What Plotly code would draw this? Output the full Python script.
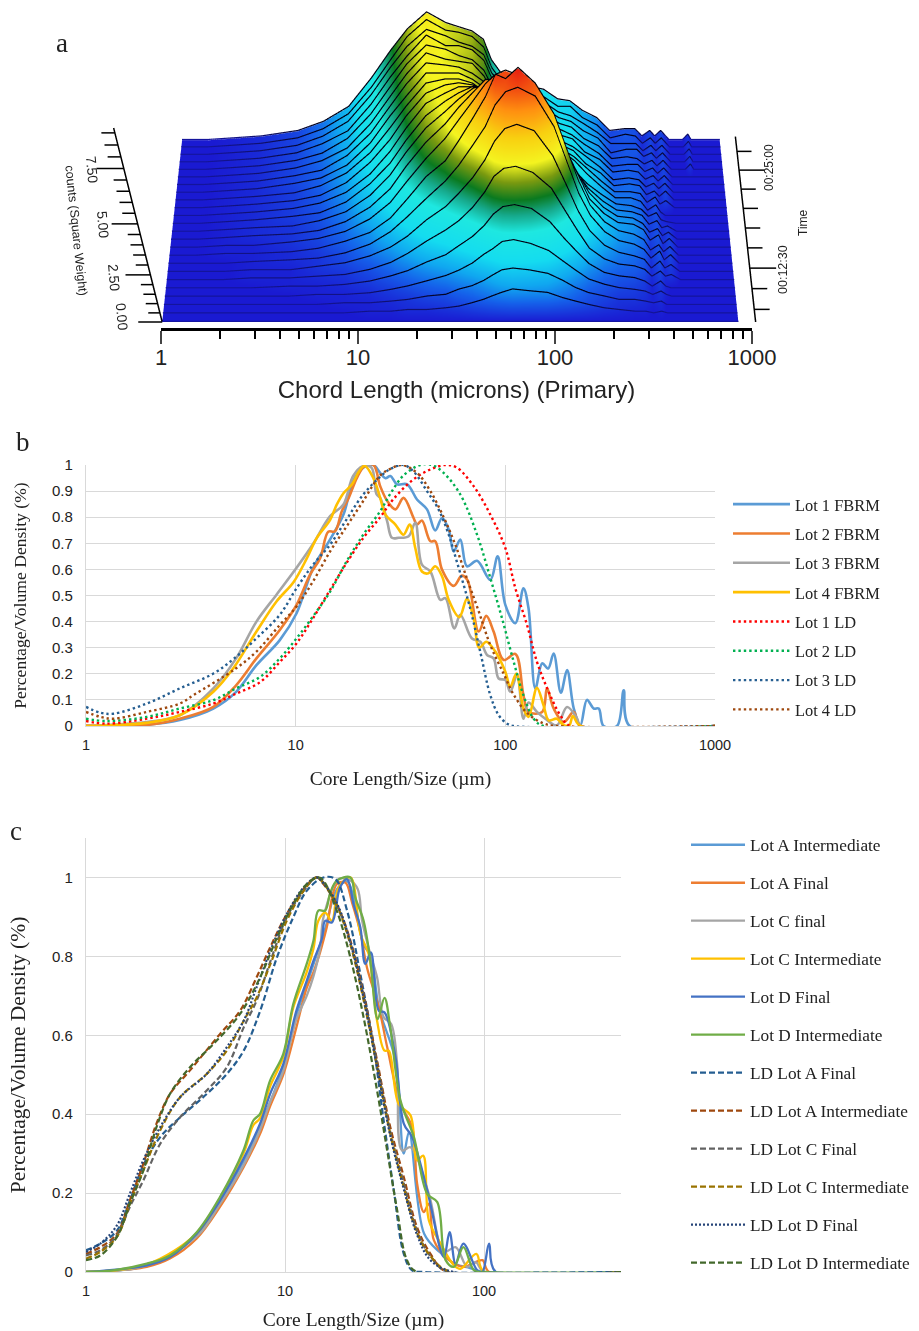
import plotly.graph_objects as go

W, H = 919, 1331
SERIF = "Liberation Serif"
SANS = "Liberation Sans"

# ---------- panel a: chord length distribution over time ----------
chord_bins = [1,1.4,2,2.8,4.5,6.3,8.8,12,15.5,19,24,30,35,41,47,52,58,66,80,100,120,140,165,200,240,290,330,365,400,430,460,520,620,655,690,1000]
slice_minutes = list(range(6, 30))
count_scale = 0.092  # table is in tenths of a count on a slightly stretched reading
counts_tenths = [
[0,0,0,0,0,0,0,0,0,0,0,0,0,0,0,0,0,0,0,0,0,0,0,0,0,0,0,0,0,0,0,0,0,0,0,0],
[0,0,0,0,0,0,0,1,1,2,2,3,4,6,8,10,12,14,13,12,9,7,5,3,2,1,1,0,1,0,0,0,0,0,0,0],
[0,0,0,0,0,0,1,1,2,3,5,6,9,11,14,17,20,21,20,18,14,10,7,5,3,3,2,1,2,0,0,0,0,0,0,0],
[0,0,0,0,0,1,1,2,4,6,9,12,15,19,24,27,31,32,30,26,20,15,10,7,5,4,3,1,3,1,0,0,0,0,0,0],
[0,0,0,0,1,1,2,4,7,10,15,19,24,29,35,41,45,46,44,37,28,21,14,9,7,6,4,1,4,1,0,0,0,0,0,0],
[0,0,0,1,1,2,3,6,10,15,22,28,33,40,48,56,60,61,58,50,38,28,18,12,9,8,6,2,5,2,3,0,0,0,0,0],
[0,0,0,1,1,3,5,9,14,20,29,36,43,51,60,69,75,77,74,62,47,34,23,15,11,9,7,2,6,2,4,0,0,0,0,0],
[0,0,0,1,2,3,6,11,18,26,36,45,53,63,72,82,88,90,86,72,54,39,27,18,13,11,8,3,7,2,5,0,0,0,0,0],
[0,0,1,1,2,4,8,13,21,31,43,51,61,72,82,92,90,95,88,74,56,41,28,19,14,12,9,3,6,2,5,0,0,0,0,0],
[0,0,1,1,3,5,9,16,25,36,48,58,67,76,84,88,90,88,80,68,52,40,27,19,14,13,10,4,7,2,5,0,0,0,0,0],
[0,0,1,2,3,5,10,18,28,40,52,61,69,76,82,82,80,76,70,60,47,37,26,18,13,12,9,4,6,2,4,0,0,0,0,0],
[0,0,1,2,3,6,11,20,31,43,55,63,69,74,76,74,70,65,60,52,42,33,24,17,12,11,9,4,6,2,3,0,0,0,0,0],
[0,0,1,2,4,6,12,22,33,45,57,64,68,71,70,66,62,57,52,46,38,29,22,16,11,10,8,4,6,2,1,0,0,0,0,0],
[0,0,1,2,4,7,13,23,35,47,59,64,67,67,65,60,55,51,47,42,35,30,23,16,10,10,8,3,6,2,0,0,0,0,0,0],
[0,0,1,2,4,7,14,25,37,49,60,64,65,64,61,55,50,46,43,38,32,28,22,15,9,9,8,3,6,2,4,0,0,0,0,0],
[0,0,1,2,4,8,15,26,39,50,61,63,63,61,57,51,46,43,40,36,30,27,20,15,8,9,8,3,5,2,5,0,0,0,0,0],
[0,0,1,2,5,8,15,27,41,51,62,62,62,59,55,48,44,41,38,34,28,25,20,14,7,8,7,3,5,2,5,0,0,0,0,0],
[0,0,1,2,5,8,16,28,42,53,63,62,61,58,54,46,42,39,36,32,27,25,18,14,7,8,7,3,5,2,5,0,0,0,0,0],
[0,0,1,2,5,9,16,29,43,54,64,61,60,59,53,45,41,38,35,31,26,23,18,13,6,7,7,3,5,2,5,0,0,0,0,0],
[0,0,1,2,5,9,17,30,44,55,64,62,59,57,52,44,40,37,33,30,25,23,17,13,6,7,6,3,5,2,5,0,0,3,0,0],
[0,0,1,2,5,10,17,31,45,55,65,60,60,58,53,44,38,35,32,29,24,22,17,13,5,7,7,3,5,2,5,0,0,3,0,0],
[0,0,1,2,5,10,18,32,46,56,64,61,58,56,52,43,38,34,31,28,23,21,17,12,6,6,6,2,5,2,5,0,0,3,0,0],
[0,0,1,2,5,10,18,32,46,57,65,60,59,57,52,42,36,33,30,27,22,22,16,12,5,7,6,2,5,2,5,0,0,3,0,0],
[0,0,1,2,5,10,18,33,47,57,65,60,58,56,52,42,36,33,29,27,22,21,16,12,5,6,6,2,5,2,5,0,0,3,0,0],
]
z_ticks = [0,0.5,1,1.5,2,2.5,3,3.5,4,4.5,5,5.5,6,6.5,7,7.5,8,8.5,9]
z_major = [0,2.5,5,7.5]
z_labels = ["0.00","2.50","5.00","7.50"]
time_ticks = [7.5,10,12.5,15,17.5,20,22.5,25,27.5]
time_major = [12.5,25]

# ---------- panel b ----------
b_l1_x = [1,1.95,2.8,4.05,5.2,6.5,8.4,10.1,12.1,14.6,16.9,18.8,21,23.5,25.3,26.8,28.3,30.4,34,37.9,42.3,46.3,49.9,53.7,56.7,61,65.6,73.3,84.8,91.9,100,111.6,122,129,139,150,160,170,184,197,212,228,245,264,279,294,341,367,392,1000]
b_l1_y = [0,.005,.023,.067,.131,.233,.329,.432,.605,.715,.81,.938,.99,1,.97,.949,.958,.926,.926,.868,.83,.749,.797,.753,.669,.714,.612,.633,.56,.65,.464,.394,.528,.451,.144,.24,.22,.278,.128,.214,.067,.003,.1,.067,.067,0,0,.137,0,0]
b_l2_x = [1,1.95,2.8,4.05,5.2,6.5,8.4,10.1,11.7,13.1,14.3,15.4,16.6,17.9,19.6,21.3,23.5,25.3,27.3,29.9,32.7,36.5,37.9,40,43.9,46.3,49.9,56.7,62,66,74.6,81.1,87.9,98.2,111.6,122,129,150,158,170,190,212,228,1000]
b_l2_y = [.002,.004,.028,.073,.156,.259,.368,.464,.579,.644,.744,.746,.823,.874,.951,.996,1,.919,.863,.83,.874,.797,.772,.787,.708,.708,.599,.537,.576,.559,.362,.422,.362,.253,.276,.118,.054,.054,.144,.067,.015,.054,.002,0]
b_l3_x = [1,1.95,2.8,4.05,5.2,6.5,8.1,10.1,12.1,14.6,16.9,18.8,21,23,24.3,25.3,27.3,28.8,31,34.6,37.2,40,43.9,49,51.8,57.1,61,69.3,76,81.8,87.9,92.9,100,105.6,113.7,122,129,141.5,155,176,197,220,228,1000]
b_l3_y = [0,.015,.041,.144,.259,.4,.503,.606,.697,.804,.849,.958,.996,.99,.888,.874,.785,.721,.721,.727,.779,.618,.592,.483,.49,.374,.426,.335,.323,.272,.259,.182,.176,.131,.195,.028,.09,.054,.028,.003,.073,.028,0,0]
b_l4_x = [1,1.95,2.8,4.05,5.04,6.5,8.1,9.8,11.3,12.6,14.6,15.7,16.9,18.5,20,21.3,23.5,25.3,26.8,29.9,32.7,35,37.2,40,43,46.3,49.9,53.7,60.3,65.6,70.6,75.1,81.1,89.6,100,105.6,112.9,122,129,141.5,152,161,176,190,202,210,228,1000]
b_l4_y = [0,.012,.041,.131,.221,.362,.477,.553,.642,.72,.79,.848,.892,.924,.974,.997,.949,.874,.81,.772,.733,.772,.682,.592,.585,.612,.574,.483,.417,.487,.413,.3,.323,.285,.208,.15,.201,.067,.035,.146,.08,.022,.028,.003,.003,.038,0,0]
b_ld1_x = [1,1.26,1.95,2.8,4.05,5.2,6.76,8.4,10.1,12.1,14.6,17.5,21,25.3,29.3,36.5,43.9,51.8,58.7,70.6,84.8,100,111.6,126.9,141.5,161,183,204,1000]
b_ld1_y = [.019,.009,.028,.054,.086,.124,.168,.245,.317,.413,.522,.625,.72,.8,.87,.945,.983,1,.99,.919,.81,.682,.528,.387,.246,.131,.041,0,0]
b_ld2_x = [1,1.26,1.95,2.8,4.05,5.2,6.76,8.4,10.1,12.1,14.6,17.5,21,25.3,28.3,32.7,39.3,44.7,50.8,61,73.3,84.8,96.4,109.6,122,136.5,152,1000]
b_ld2_y = [.028,.019,.035,.067,.099,.144,.188,.259,.336,.42,.515,.631,.733,.823,.89,.96,1,1,.97,.887,.733,.567,.413,.246,.118,.028,0,0]
b_ld3_x = [1,1.17,1.35,1.95,2.8,4.05,5.2,6.5,8.4,10.1,12.1,14.6,17.5,21,25.3,28.3,32.7,36.5,42.3,48,53.7,58.7,68,76,84.8,93,102,110,1000]
b_ld3_y = [.073,.051,.047,.086,.144,.201,.265,.336,.426,.528,.618,.695,.792,.887,.955,.985,1,.975,.9,.83,.733,.63,.45,.283,.118,.041,.009,0,0]
b_ld4_x = [1,1.17,1.35,1.95,2.8,3.25,5.2,6.5,8.4,10.1,12.1,14.6,17.5,21,25.3,28.3,32,37.9,43.9,50.8,57.7,65.6,74.6,84.8,98.2,109.6,126.9,152,176,1000]
b_ld4_y = [.054,.035,.028,.054,.086,.118,.221,.285,.387,.458,.554,.669,.765,.862,.96,.985,1,.97,.9,.8,.695,.565,.44,.31,.2,.12,.05,.01,0,0]

# ---------- panel c ----------
c_af_x = [1,2.02,2.64,3.6,4.71,6.18,7.49,8.41,9.8,11.4,12.85,13.9,15,16.2,18.2,20.1,21.7,23.9,25.8,29.6,32.6,38,43.5,46.1,49.8,52.8,56,65.3,79.2,87.3,98.2,106,500]
c_af_y = [0,.013,.034,.085,.165,.265,.35,.42,.5,.62,.72,.76,.81,.873,.983,.987,.937,.861,.772,.671,.57,.426,.367,.224,.152,.173,.08,.034,.013,.021,.03,0,0]
c_ai_x = [1,2.02,3.6,4.71,6.18,7.49,9.8,11.4,13.9,15.9,18.2,20.5,22.1,24.8,27,29.6,35.9,39.5,42,50,60,72,85,100,500]
c_ai_y = [0,.017,.095,.178,.28,.37,.52,.65,.78,.87,.97,.99,.95,.83,.8,.67,.535,.3,.355,.097,.05,.02,.01,0,0]
c_cf_x = [1,2.02,3.6,4.71,6.18,7.49,8.41,9.8,11.4,12.85,13.9,15,15.6,18.6,21.3,23.2,24.4,26.8,29,31.3,34.1,36.6,38.7,42.7,52.8,62.8,71.9,82.4,90.8,100,500]
c_cf_y = [0,.017,.09,.172,.27,.36,.43,.51,.64,.7,.75,.82,.899,.996,.992,.97,.89,.806,.747,.646,.629,.527,.308,.316,.198,.051,.063,.013,.025,0,0]
c_ci_x = [1,2.02,3.6,4.71,6.18,6.93,7.49,8.41,9.8,11,12.85,13.9,14.7,15.9,17.2,18.6,21.3,23.9,26.3,29,31.6,33.2,37.2,42.7,46.1,49.4,52.8,60.5,70.6,76.2,91.4,100,500]
c_ci_y = [0,.019,.098,.185,.3,.372,.39,.47,.545,.67,.76,.82,.89,.911,.89,.975,1,.857,.806,.637,.561,.561,.426,.397,.283,.295,.131,.072,.017,.008,.046,0,0]
c_df_x = [1,2.02,2.64,3.6,4.71,6.18,7.49,8.41,9.8,11.4,12.85,13.9,15.3,15.9,17.2,18.9,20.5,22.1,23.9,25.3,27,29.6,31.6,35.9,39.5,43.5,51.8,62.8,67.1,71.9,78.7,92.5,98,106,114.5,500]
c_df_y = [0,.017,.038,.097,.181,.287,.376,.451,.527,.662,.738,.789,.844,.89,.886,.975,.996,.932,.873,.781,.81,.662,.658,.544,.376,.342,.207,.038,.101,.021,.072,.004,0,.072,0,0]
c_di_x = [1,1.37,2.02,2.64,3.6,4.71,6.18,6.93,7.49,8.41,9.8,11,12.85,13.9,14.7,15.9,16.9,18.2,21.3,22.5,24.8,26.8,29.2,31.6,33.8,38,44.4,51.8,58.2,64.1,70.6,78.7,89.1,100,500]
c_di_y = [0,.004,.021,.042,.101,.19,.308,.384,.401,.485,.553,.679,.781,.84,.916,.916,.962,.992,1,.95,.891,.79,.641,.695,.62,.435,.342,.198,.177,.03,.013,.063,.004,0,0]
c_ld_af_x = [1,1.18,1.43,1.66,1.94,2.36,2.97,4.04,5.1,6.2,7.5,9.1,11,12.85,15.6,17.9,20.5,23.9,27.9,31.3,35.2,39.5,43.5,50,500]
c_ld_af_y = [.055,.072,.105,.181,.27,.342,.392,.451,.502,.561,.662,.797,.899,.966,1,.996,.916,.755,.57,.384,.207,.046,.004,0,0]
c_ld_ai_x = [1,1.18,1.43,1.66,1.94,2.26,2.64,3.33,4.71,5.94,7.2,8.57,10.2,12.4,14.4,15.6,18.2,21.3,24.8,29,33.8,39.5,46,53.8,65,500]
c_ld_ai_y = [.046,.063,.097,.181,.274,.376,.451,.511,.603,.662,.747,.831,.907,.971,1,.983,.932,.84,.705,.536,.367,.241,.114,.046,0,0]
c_ld_cf_x = [1,1.18,1.43,1.66,1.94,2.36,2.97,4.04,5.1,6.2,7.2,8.57,10.2,12.4,14.4,15.6,18.2,21.3,24.8,29,33.8,39.5,46,53.8,66,500]
c_ld_cf_y = [.042,.055,.093,.165,.232,.325,.392,.46,.519,.62,.688,.797,.899,.966,1,.987,.93,.835,.7,.53,.355,.225,.105,.04,0,0]
c_ld_ci_x = [1,1.18,1.43,1.66,1.94,2.36,2.97,4.04,5.1,6.2,7.2,8.57,10.2,12.4,14.4,15.6,18.2,21.3,24.8,29,33.8,39.5,46,53.8,68,500]
c_ld_ci_y = [.034,.051,.089,.173,.257,.359,.443,.502,.561,.637,.696,.789,.89,.966,1,.985,.93,.83,.69,.52,.35,.215,.1,.04,0,0]
c_ld_df_x = [1,1.18,1.43,1.66,1.94,2.36,2.97,4.04,5.1,6.2,7.2,8.57,10.2,12.4,14.4,15.6,18.2,21.3,24.8,29,33.8,39.5,46,53.8,70,500]
c_ld_df_y = [.051,.072,.118,.198,.283,.367,.443,.502,.57,.637,.722,.823,.907,.975,1,.985,.935,.835,.695,.52,.345,.21,.095,.03,0,0]
c_ld_di_x = [1,1.18,1.43,1.66,1.94,2.26,2.64,3.33,4.37,5.94,7.5,9.1,11,12.85,14.7,15.6,18.2,21.3,24.8,29,32.6,36.6,41,46,500]
c_ld_di_y = [.03,.042,.089,.173,.257,.367,.451,.519,.578,.654,.747,.847,.932,.983,1,.992,.916,.797,.646,.46,.308,.156,.03,0,0]

fig = go.Figure()

# ---------- surface ----------
z_matrix = [[v * count_scale for v in row] for row in counts_tenths]
CMAX = 9.2
colorscale = [[0,"#1a1ad2"],[0.08,"#1560ea"],[0.15,"#10a8f0"],[0.23,"#14dcf0"],[0.35,"#1ee8e0"],[0.42,"#16a88a"],
              [0.48,"#0a7a20"],[0.55,"#7a9a10"],[0.62,"#f4f420"],[0.72,"#f8d010"],[0.82,"#ff9010"],[0.95,"#e82010"],[1,"#d01010"]]
fig.add_trace(go.Surface(
    x=chord_bins, y=slice_minutes, z=z_matrix, cmin=0, cmax=CMAX, colorscale=colorscale,
    showscale=False, hoverinfo="skip",
    lighting=dict(ambient=1, diffuse=0.15, specular=0, roughness=1, fresnel=0),
    contours=dict(x=dict(highlight=False), y=dict(highlight=False), z=dict(highlight=False)),
))
# slice lines drawn over the surface: black on the hump, dark blue on the flat floor
lx, ly, lz, lc = [], [], [], []
for t, row in zip(slice_minutes, z_matrix):
    lx += chord_bins + [None]
    ly += [t] * len(row) + [None]
    lz += [v + 0.04 for v in row] + [None]
    lc += row + [0]
fig.add_trace(go.Scatter3d(x=lx, y=ly, z=lz, mode="lines", hoverinfo="skip", showlegend=False,
    line=dict(width=2.4, color=lc, cmin=0, cmax=10, showscale=False,
              colorscale=[[0, "#14149c"], [0.02, "#10106a"], [0.06, "#000018"], [1, "#000000"]])))
# tilted z axis and time axis
t0, t1 = slice_minutes[0], slice_minutes[-1]
zx, zy, zz = [1, 1, None], [t0, t0, None], [0, 9.2, None]
for t in z_ticks:
    ln = 0.75 if t in z_major else 0.87
    zx += [1, ln, None]; zy += [t0, t0, None]; zz += [t, t, None]
tx, ty, tz = [1230, 1230, None], [t0, t1 + 0.5, None], [0, 0, None]
for t in time_ticks:
    e = 1700 if t in time_major else 1480
    tx += [1230, e, None]; ty += [t, t, None]; tz += [0, 0, None]
for a, b, c in ((zx, zy, zz), (tx, ty, tz)):
    fig.add_trace(go.Scatter3d(x=a, y=b, z=c, mode="lines", line=dict(color="black", width=3),
                               hoverinfo="skip", showlegend=False))

AX = dict(visible=False, showgrid=False, zeroline=False, showbackground=False)
fig.update_layout(scene=dict(
    domain=dict(x=[0, 1], y=[0, 1]),
    xaxis=dict(AX, type="log", range=[-0.25, 3.25]),
    yaxis=dict(AX, range=[t0 - 0.5, t1 + 0.5]),
    zaxis=dict(AX, range=[-0.2, 10.2]),
    aspectmode="manual", aspectratio=dict(x=1.1667, y=0.449, z=0.5),
    camera=dict(projection=dict(type="perspective"), up=dict(x=0, y=0, z=1),
                eye=dict(x=0.016, y=-2.04, z=1.951), center=dict(x=0.016, y=-0.696, z=-0.607)),
    bgcolor="rgba(0,0,0,0)",
))

# bottom chord-length axis of panel a
fig.add_trace(go.Scatter(x=[1, 1000], y=[0, 0], xaxis="x3", yaxis="y3", mode="markers",
                         marker=dict(opacity=0), hoverinfo="skip", showlegend=False))

def add(x, y, name, color, dash, width, xa, ya, leg):
    fig.add_trace(go.Scatter(x=x, y=y, name=name, mode="lines", xaxis=xa, yaxis=ya, legend=leg,
                             legendgroup=name, cliponaxis=False, hoverinfo="skip",
                             line=dict(color=color, dash=dash, width=width, shape="spline", smoothing=1)))

BD = "2.4px,3px"
for x, y, n, col, d, w in [
    (b_l1_x, b_l1_y, "Lot 1 FBRM", "#5B9BD5", "solid", 2.6),
    (b_l2_x, b_l2_y, "Lot 2 FBRM", "#ED7D31", "solid", 2.6),
    (b_l3_x, b_l3_y, "Lot 3 FBRM", "#A5A5A5", "solid", 2.6),
    (b_l4_x, b_l4_y, "Lot 4 FBRM", "#FFC000", "solid", 2.6),
    (b_ld1_x, b_ld1_y, "Lot 1 LD", "#FF0000", BD, 2.4),
    (b_ld2_x, b_ld2_y, "Lot 2 LD", "#00B050", BD, 2.4),
    (b_ld3_x, b_ld3_y, "Lot 3 LD", "#255E91", BD, 2.4),
    (b_ld4_x, b_ld4_y, "Lot 4 LD", "#9E480E", BD, 2.4),
]:
    add(x, y, n, col, d, w, "x", "y", "legend")

CD = "6px,3px"
for x, y, n, col, d, w in [
    (c_ai_x, c_ai_y, "Lot A Intermediate", "#5B9BD5", "solid", 2.3),
    (c_af_x, c_af_y, "Lot A Final", "#ED7D31", "solid", 2.3),
    (c_cf_x, c_cf_y, "Lot C final", "#A5A5A5", "solid", 2.3),
    (c_ci_x, c_ci_y, "Lot C Intermediate", "#FFC000", "solid", 2.3),
    (c_df_x, c_df_y, "Lot D Final", "#4472C4", "solid", 2.3),
    (c_di_x, c_di_y, "Lot D Intermediate", "#70AD47", "solid", 2.3),
    (c_ld_af_x, c_ld_af_y, "LD Lot A Final", "#255E91", CD, 2.2),
    (c_ld_ai_x, c_ld_ai_y, "LD Lot A Intermediate", "#9E480E", CD, 2.2),
    (c_ld_cf_x, c_ld_cf_y, "LD Lot C Final", "#636363", CD, 2.2),
    (c_ld_ci_x, c_ld_ci_y, "LD Lot C Intermediate", "#997300", CD, 2.2),
    (c_ld_df_x, c_ld_df_y, "LD Lot D Final", "#264478", "2px,2px", 2.2),
    (c_ld_di_x, c_ld_di_y, "LD Lot D Intermediate", "#43682B", CD, 2.2),
]:
    add(x, y, n, col, d, w, "x2", "y2", "legend2")

GRID = "#D9D9D9"
def xax(x0, x1, y_anchor, rng, vals, standoff):
    return dict(type="log", domain=[x0 / W, x1 / W], range=rng, anchor=y_anchor, tickmode="array", tickvals=vals,
                ticktext=[str(v) for v in vals], ticks="", showgrid=True, gridcolor=GRID, gridwidth=1.4,
                showline=True, linecolor=GRID, linewidth=1.4, zeroline=False, automargin=False,
                ticklabelstandoff=5,
                tickfont=dict(family=SANS, size=14.5, color="#222222"),
                title=dict(text="Core Length/Size (µm)", font=dict(family=SERIF, size=19.5, color="#222222"), standoff=standoff))
def yax(top, bot, x_anchor, rng, vals, labels, size):
    return dict(domain=[1 - bot / H, 1 - top / H], range=rng, anchor=x_anchor, tickmode="array", tickvals=vals,
                ticktext=labels, ticks="", showgrid=True, gridcolor=GRID, gridwidth=1.4,
                showline=True, linecolor=GRID, linewidth=1.4, zeroline=False, automargin=False,
                ticklabelstandoff=9,
                tickfont=dict(family=SANS, size=15, color="#222222"),
                title=dict(text="Percentage/Volume Density (%)", font=dict(family=SERIF, size=size, color="#222222"), standoff=20))

b_y_ticks = [0,.1,.2,.3,.4,.5,.6,.7,.8,.9,1]
b_y_labels = ["0","0.1","0.2","0.3","0.4","0.5","0.6","0.7","0.8","0.9","1"]
c_y_ticks = [0,.2,.4,.6,.8,1]
c_y_labels = ["0","0.2","0.4","0.6","0.8","1"]

def legend(x, y, gap, size, iw):
    return dict(x=x / W, y=1 - y / H, xanchor="left", yanchor="top", itemwidth=iw, tracegroupgap=gap,
                font=dict(family=SERIF, size=size, color="#222222"), bgcolor="rgba(0,0,0,0)", itemclick=False, itemdoubleclick=False)

fig.update_layout(
    width=W, height=H, autosize=False, margin=dict(l=0, r=0, t=0, b=0),
    paper_bgcolor="white", plot_bgcolor="rgba(0,0,0,0)",
    xaxis=xax(86, 715, "y", [0, 3], [1, 10, 100, 1000], 19),
    yaxis=yax(465, 726, "x", [0, 1], b_y_ticks, b_y_labels, 17.6),
    xaxis2=xax(86, 621, "y2", [0, 2.688], [1, 10, 100], 17),
    yaxis2=yax(838, 1272, "x2", [0, 1.1], c_y_ticks, c_y_labels, 21.5),
    xaxis3=dict(type="log", domain=[161 / W, 752 / W], range=[0, 3], anchor="y3", tick0=0, dtick=1, showgrid=False,
                zeroline=False, showline=True, linecolor="black", linewidth=2.5, ticks="outside", ticklen=13, tickwidth=2,
                automargin=False, exponentformat="none", ticklabelstandoff=-5,
                minor=dict(ticks="outside", ticklen=8, tickwidth=1.5, tickcolor="black", dtick="D1", showgrid=False),
                tickfont=dict(family=SANS, size=22, color="#222222"),
                title=dict(text="Chord Length (microns) (Primary)", font=dict(family=SANS, size=24, color="#222222"), standoff=13)),
    yaxis3=dict(domain=[1 - 328 / H, 1 - 300 / H], anchor="x3", visible=False, range=[0, 1], automargin=False),
    legend=legend(728, 487, 5, 16.4, 57),
    legend2=legend(686, 827, 12.5, 17.3, 54),
    annotations=[
        dict(text=t, x=x / W, y=1 - y / H, xref="paper", yref="paper", showarrow=False, textangle=a,
             xanchor="center", yanchor="middle", font=dict(family=f, size=s, color="#222222"))
        for t, x, y, a, f, s in [
            ("a", 62, 43, 0, SERIF, 27), ("b", 23, 442, 0, SERIF, 27), ("c", 16, 831, 0, SERIF, 27),
            (z_labels[3], 92, 169, 85, SANS, 14), (z_labels[2], 103, 224, 85, SANS, 14),
            (z_labels[1], 114, 277, 85, SANS, 14), (z_labels[0], 122, 317, 85, SANS, 14),
            ("counts (Square Weight)", 76, 230, 84, SANS, 12.5),
            ("00:25:00", 769, 168, -90, SANS, 12), ("00:12:30", 783, 270, -90, SANS, 12.5),
            ("Time", 803, 223, -90, SANS, 12),
        ]
    ],
)
fig.write_html("out.html", post_script="document.body.style.margin='0';", config={"displayModeBar": False})
